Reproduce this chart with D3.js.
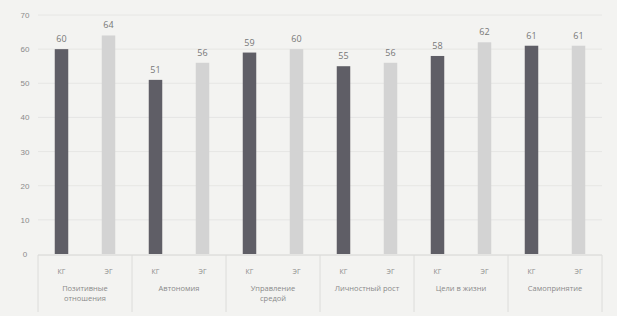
<!DOCTYPE html>
<html><head><meta charset="utf-8">
<script src="https://cdn.jsdelivr.net/npm/d3@7"></script>
<style>
html,body{margin:0;padding:0;background:#f3f3f1;}
svg{display:block;font-family:"Open Sans","DejaVu Sans",sans-serif;}
</style></head>
<body><svg id="c" width="617" height="316"></svg>
<script>
const categories = [["Позитивные","отношения"],["Автономия"],["Управление","средой"],["Личностный рост"],["Цели в жизни"],["Самопринятие"]];
const groups = ["КГ","ЭГ"];
const kgValues = [60,51,59,55,58,61];
const egValues = [64,56,60,56,62,61];
const yTicks = [0,10,20,30,40,50,60,70];

(function(){
const svg = d3.select("#c");
const mLeft = 38, mRight = 602, mTop = 15, mBottom = 254;
const y = d3.scaleLinear().domain([0,70]).range([mBottom, mTop]);
const x0 = d3.scaleBand().domain(d3.range(categories.length)).range([mLeft,mRight]);
const x1 = d3.scaleBand().domain(groups).range([0,x0.bandwidth()]);
const barW = 13.5;
const colors = {"КГ":"#5f5e66","ЭГ":"#d3d3d3"};
const textCol = "#8a8a8a";

svg.append("g").selectAll("line").data(yTicks.slice(1)).join("line")
  .attr("x1", mLeft).attr("x2", mRight)
  .attr("y1", d=>y(d)).attr("y2", d=>y(d))
  .attr("stroke","#e6e6e4").attr("stroke-width",1);

const yAxis = d3.axisLeft(y).tickValues(yTicks).tickSize(0).tickPadding(0);
const ya = svg.append("g").attr("transform",`translate(30,0)`).call(yAxis);
ya.select(".domain").remove();
ya.selectAll("text").attr("fill",textCol).attr("font-size",8).attr("text-anchor","middle").attr("dx",-5);

svg.append("line").attr("x1",mLeft).attr("x2",mRight).attr("y1",mBottom+1).attr("y2",mBottom+1)
  .attr("stroke","#d4d4d2");

const data = [];
categories.forEach((c,i)=>{
  data.push({i, g:"КГ", v:kgValues[i]});
  data.push({i, g:"ЭГ", v:egValues[i]});
});
svg.append("g").selectAll("rect").data(data).join("rect")
  .attr("x", d=>x0(d.i)+x1(d.g)+x1.bandwidth()/2-barW/2)
  .attr("width", barW)
  .attr("y", d=>y(d.v))
  .attr("height", d=>y(0)-y(d.v))
  .attr("fill", d=>colors[d.g]);

svg.append("g").selectAll("text").data(data).join("text")
  .attr("x", d=>x0(d.i)+x1(d.g)+x1.bandwidth()/2)
  .attr("y", d=>y(d.v)-7)
  .attr("text-anchor","middle")
  .attr("font-size",9).attr("fill","#777")
  .text(d=>d.v);

svg.append("g").selectAll("text").data(data).join("text")
  .attr("x", d=>x0(d.i)+x1(d.g)+x1.bandwidth()/2)
  .attr("y", 274)
  .attr("text-anchor","middle")
  .attr("font-size",7).attr("fill",textCol)
  .text(d=>d.g);

svg.append("g").selectAll("line").data(d3.range(categories.length+1)).join("line")
  .attr("x1", d=> d<categories.length ? x0(d) : mRight)
  .attr("x2", d=> d<categories.length ? x0(d) : mRight)
  .attr("y1", mBottom+1).attr("y2", 312)
  .attr("stroke","#dcdcda");

const cl = svg.append("g").selectAll("text").data(categories).join("text")
  .attr("x",(d,i)=>x0(i)+x0.bandwidth()/2)
  .attr("y",291)
  .attr("text-anchor","middle")
  .attr("font-size",7.5).attr("fill",textCol);
cl.selectAll("tspan").data(d=>d).join("tspan")
  .attr("x",function(){return this.parentNode.getAttribute("x");})
  .attr("dy",(d,j)=>j===0?0:10)
  .text(d=>d);
})();
</script></body></html>
